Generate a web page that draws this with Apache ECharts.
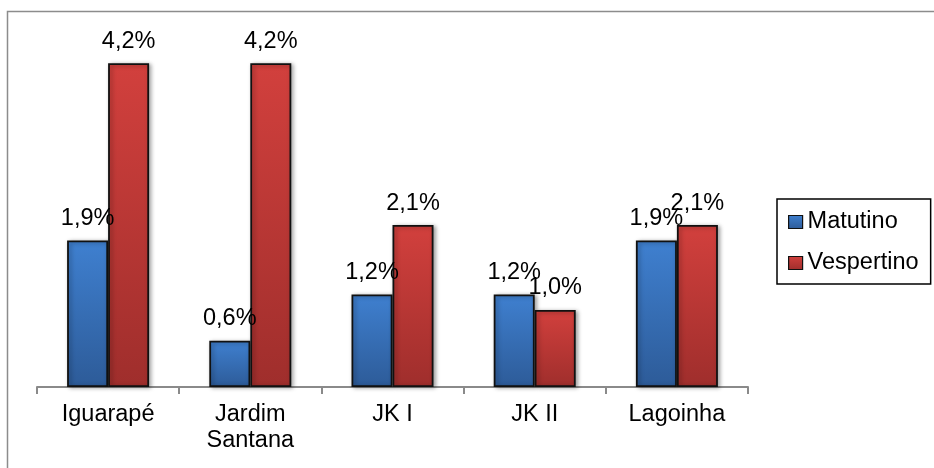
<!DOCTYPE html>
<html>
<head>
<meta charset="utf-8">
<script src="https://cdn.jsdelivr.net/npm/echarts@6/dist/echarts.min.js"></script>
<style>
  html, body { margin: 0; padding: 0; background: #fff; }
  #chart { width: 934px; height: 468px; }
</style>
</head>
<body>
<div id="chart"></div>
<script>
// Share of students per neighbourhood, by school shift (%)
const categories = ['Iguarapé', 'Jardim\nSantana', 'JK I', 'JK II', 'Lagoinha'];
const matutino = [1.9, 0.6, 1.2, 1.2, 1.9];
const vespertino = [4.2, 4.2, 2.1, 1.0, 2.1];
const seriesNames = ['Matutino', 'Vespertino'];

const FONT = "'Liberation Sans', Arial, sans-serif";
const FS = 23.5;

function grad(top, bottom) {
  return new echarts.graphic.LinearGradient(0, 0, 0, 1, [
    { offset: 0, color: top },
    { offset: 1, color: bottom }
  ]);
}

const fmt = v => v.toFixed(1).replace('.', ',') + '%';

function barSeries(name, data, top, bottom) {
  return {
    name: name,
    type: 'bar',
    data: data,
    barWidth: 41,
    barGap: '0%',
    itemStyle: {
      color: grad(top, bottom),
      borderColor: '#111',
      borderWidth: 1.8,
      shadowColor: 'rgba(0,0,0,0.35)',
      shadowBlur: 4,
      shadowOffsetX: 2,
      shadowOffsetY: 1
    },
    label: {
      show: true,
      position: 'top',
      distance: 10,
      color: '#000',
      fontSize: FS,
      fontFamily: FONT,
      formatter: p => fmt(p.value)
    }
  };
}

const chart = echarts.init(document.getElementById('chart'));
chart.setOption({
  animation: false,
  backgroundColor: '#fff',
  graphic: [{
    type: 'rect',
    shape: { x: 7.5, y: 11.5, width: 940, height: 470 },
    style: { fill: 'none', stroke: '#8c8c8c', lineWidth: 1.5 },
    silent: true,
    z: -1
  }],
  grid: { left: 37, right: 186, top: 40, bottom: 81 },
  legend: {
    orient: 'vertical',
    left: 777,
    top: 199,
    padding: [11, 12, 9, 11],
    borderColor: '#000',
    borderWidth: 1.5,
    itemWidth: 14,
    itemHeight: 13,
    itemGap: 17,
    icon: 'rect',
    itemStyle: { borderColor: '#111', borderWidth: 1.2 },
    textStyle: { fontSize: FS, fontFamily: FONT, color: '#000', padding: [0, 0, 0, 0] },
    data: seriesNames
  },
  xAxis: {
    type: 'category',
    data: categories,
    axisLine: { lineStyle: { color: '#8a8a8a', width: 2 } },
    axisTick: { show: true, length: 7, lineStyle: { color: '#8a8a8a', width: 2 } },
    axisLabel: {
      color: '#000',
      fontSize: FS,
      fontFamily: FONT,
      margin: 15,
      lineHeight: 26,
      interval: 0
    }
  },
  yAxis: {
    type: 'value',
    min: 0,
    max: 4.5,
    show: false,
    splitLine: { show: false }
  },
  series: [
    barSeries(seriesNames[0], matutino, '#3f80d0', '#2d5b98'),
    barSeries(seriesNames[1], vespertino, '#d2403d', '#9f2e2c')
  ]
});
</script>
</body>
</html>
